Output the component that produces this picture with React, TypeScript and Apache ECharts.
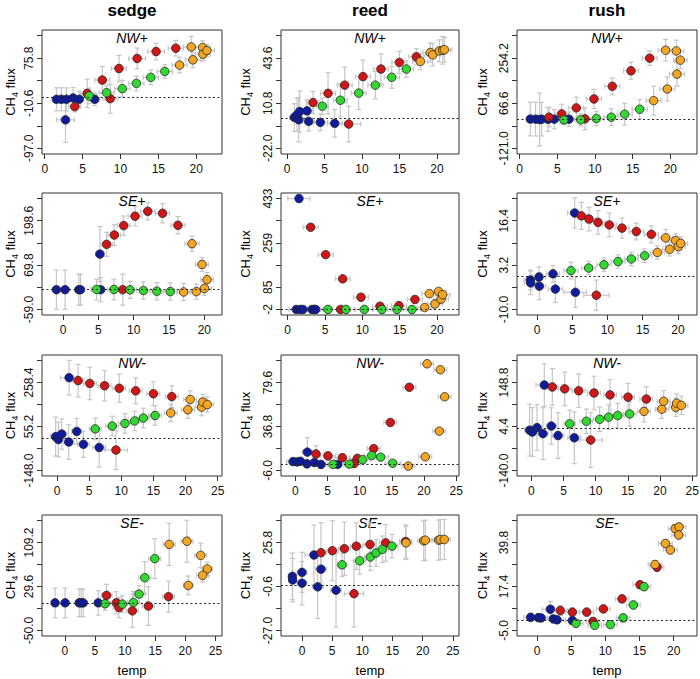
import React, { useEffect, useRef } from "react";
import * as echarts from "echarts";

const FONT = "'Liberation Sans', Arial, Helvetica, sans-serif";

const columnNames = ["sedge", "reed", "rush"];
const siteNames = ["NW+", "SE+", "NW-", "SE-"];
// 0 blue, 1 red, 2 green, 3 orange
const groupColors = ["#0f1c9f", "#d01616", "#30d830", "#f4a522"];

// [temp, CH4 flux, temp error, flux error, group]
const sedgeNWplus = [
  [1.55, -3.0, 0.5, 22, 0], [2.2, -3.0, 0.5, 22, 0], [2.87, -3.0, 0.5, 22, 0], [3.75, -0.4, 0.5, 20, 0],
  [4.55, -3.0, 0.5, 15, 0], [6.6, -3.0, 0.6, 12, 0], [2.74, -42.4, 1.2, 43, 0],
  [3.97, -17.0, 0.8, 10, 1], [5.6, 8.5, 0.9, 27, 1], [7.6, 33.9, 1.0, 26, 1], [9.8, 56.1, 1.0, 25, 1],
  [12.2, 75.2, 1.1, 20, 1], [14.7, 88.5, 1.1, 16, 1], [17.3, 94.9, 1.0, 15, 1], [8.65, -1.7, 1.0, 28, 1],
  [5.87, 3.4, 1.0, 15, 2], [8.17, 9.7, 1.0, 14, 2], [10.24, 17.4, 1.0, 16, 2], [12.1, 27.5, 1.0, 14, 2],
  [14.0, 39.0, 1.0, 14, 2], [15.85, 50.4, 1.0, 13, 2],
  [17.8, 62.5, 1.0, 15, 3], [19.34, 97.4, 1.0, 20, 3], [19.56, 72.6, 1.0, 15, 3], [20.84, 96.1, 1.0, 13, 3],
  [20.88, 83.4, 1.0, 13, 3], [21.41, 90.4, 1.0, 12, 3],
];
const reedNWplus = [
  [0.98, 0.5, 0.6, 10, 0], [1.33, 2.4, 0.6, 12, 0], [1.69, 4.8, 0.5, 15, 0], [1.56, -1.2, 0.6, 16, 0],
  [2.67, 5.3, 0.8, 8, 0], [2.89, -2.4, 0.8, 7, 0], [4.44, -3.1, 1.0, 6, 0], [6.36, -3.8, 1.0, 10, 0],
  [3.47, 11.3, 0.9, 8, 1], [5.47, 18.0, 1.0, 15, 1], [7.69, 24.0, 1.0, 13, 1], [10.13, 30.2, 1.0, 12, 1],
  [12.53, 35.7, 1.0, 11, 1], [14.98, 40.5, 1.0, 8, 1], [17.24, 44.6, 1.0, 6, 1], [8.22, -4.3, 1.6, 13, 1],
  [4.71, 8.65, 0.8, 6, 2], [7.11, 13.0, 0.9, 12, 2], [9.56, 18.2, 1.0, 12, 2], [11.78, 24.0, 1.0, 10, 2],
  [13.96, 29.7, 1.0, 8, 2], [15.91, 35.7, 1.0, 6, 2],
  [17.78, 41.2, 1.0, 6, 3], [19.1, 47.7, 1.0, 7, 3], [19.42, 46.0, 1.0, 8, 3], [20.31, 48.9, 1.0, 8, 3],
  [20.76, 49.3, 1.0, 10, 3], [20.98, 49.8, 1.0, 9, 3],
];
const rushNWplus = [
  [1.42, 1.0, 0.5, 70, 0], [2.12, 0.5, 0.5, 70, 0], [2.65, -1.0, 0.6, 110, 0], [2.92, 0.5, 0.6, 70, 0],
  [3.76, 0.0, 0.6, 50, 0], [4.6, 0.5, 0.6, 40, 0], [6.55, 0.5, 0.7, 30, 0],
  [3.9, 8.7, 0.8, 40, 1], [5.58, 22.5, 0.9, 40, 1], [7.52, 47.4, 1.0, 45, 1], [9.87, 84.6, 1.0, 40, 1],
  [12.3, 137.0, 1.0, 35, 1], [14.78, 201.8, 1.0, 35, 1], [17.26, 254.2, 1.0, 30, 1], [8.67, 1.8, 1.0, 45, 1],
  [5.88, -2.3, 0.8, 20, 2], [8.1, -2.3, 0.8, 25, 2], [10.18, 3.2, 1.0, 30, 2], [12.17, 8.7, 1.0, 35, 2],
  [13.94, 21.2, 1.0, 45, 2], [15.93, 41.8, 1.0, 40, 2],
  [17.79, 77.7, 1.0, 60, 3], [19.6, 126.0, 1.0, 50, 3], [20.88, 188.0, 1.0, 50, 3], [21.33, 246.0, 0.9, 35, 3],
  [19.38, 287.3, 1.0, 45, 3], [20.8, 284.5, 1.0, 45, 3],
];
const sedgeSEplus = [
  [-0.95, -1.6, 0.5, 57, 0], [0.28, -1.6, 0.5, 57, 0], [2.23, -1.6, 0.5, 45, 0], [2.46, -1.6, 0.5, 45, 0],
  [5.21, 101.8, 0.6, 80, 0], [5.31, -1.6, 0.6, 35, 0],
  [6.16, 130.0, 0.8, 35, 1], [7.25, 157.2, 0.9, 30, 1], [8.58, 184.5, 0.9, 28, 1], [10.19, 211.8, 1.0, 28, 1],
  [11.99, 225.9, 1.0, 25, 1], [14.08, 220.2, 1.0, 28, 1], [16.26, 185.4, 1.0, 25, 1], [8.44, -1.6, 1.0, 45, 1],
  [4.74, -1.0, 0.8, 30, 2], [7.2, -1.0, 0.9, 30, 2], [9.48, -2.0, 0.9, 25, 2], [11.37, -4.0, 1.0, 25, 2],
  [13.27, -6.0, 1.0, 25, 2], [15.17, -7.0, 1.0, 25, 2],
  [17.06, -8.2, 1.0, 25, 3], [18.86, -7.3, 1.0, 22, 3], [20.0, 2.1, 1.0, 20, 3], [19.67, 71.7, 0.9, 20, 3],
  [18.25, 131.9, 1.0, 22, 3], [20.38, 27.5, 0.9, 20, 3],
];
const reedSEplus = [
  [1.52, 433, 1.5, 6, 0], [1.16, -2, 1.0, 3, 0], [1.7, -2, 1.0, 3, 0], [2.05, -2, 1.0, 3, 0],
  [3.26, -2, 1.2, 3, 0], [3.57, -2, 1.2, 3, 0], [3.75, -2, 1.2, 3, 0],
  [3.08, 320.5, 1.0, 5, 1], [5.09, 213, 1.0, 5, 1], [7.37, 118, 1.0, 5, 1], [9.82, 46, 1.0, 5, 1],
  [12.37, 10.6, 1.0, 6, 1], [14.91, 13.2, 1.0, 8, 1], [17.05, 37.2, 1.0, 10, 1], [7.1, -2, 1.2, 3, 1],
  [5.4, -2, 1.2, 3, 2], [7.81, -2, 1.2, 3, 2], [10.27, -2, 1.2, 3, 2], [12.63, -2, 1.2, 3, 2],
  [14.64, -2, 1.2, 3, 2], [16.65, -2, 1.2, 3, 2],
  [18.35, 5.6, 1.0, 8, 3], [18.97, 60, 1.0, 10, 3], [19.73, 19.5, 1.0, 10, 3], [20.22, 68.8, 1.0, 10, 3],
  [20.54, 38.5, 1.0, 12, 3], [20.76, 56, 1.0, 12, 3],
];
const rushSEplus = [
  [5.34, 18.7, 1.0, 4.5, 0], [-0.95, -1.23, 0.9, 3, 0], [-0.9, -2.1, 0.9, 3.5, 0], [0.28, -0.36, 0.9, 3, 0],
  [2.27, 0.6, 0.9, 2.5, 0], [0.33, -3.06, 0.9, 4, 0], [2.6, -3.93, 1.0, 4, 0], [5.44, -4.9, 1.6, 4.5, 0],
  [6.29, 17.85, 0.9, 4, 1], [7.38, 16.9, 1.0, 3.5, 1], [8.65, 15.9, 1.0, 3.5, 1], [10.26, 15.15, 1.0, 3.5, 1],
  [12.06, 14.2, 1.0, 3, 1], [14.09, 13.2, 1.0, 2.5, 1], [16.22, 12.35, 1.0, 2.5, 1], [8.42, -5.76, 1.8, 4.5, 1],
  [4.82, 1.56, 1.0, 2.5, 2], [7.33, 2.33, 1.0, 2, 2], [9.5, 3.3, 1.0, 2, 2], [11.49, 4.26, 1.0, 2, 2],
  [13.38, 5.03, 1.0, 2, 2], [15.27, 6.0, 1.0, 2, 2],
  [17.07, 6.96, 1.0, 2, 3], [18.25, 11.3, 1.0, 2.5, 3], [18.82, 7.9, 1.0, 2, 3], [19.67, 10.5, 1.0, 2, 3],
  [20.05, 8.7, 1.0, 2, 3], [20.38, 9.66, 1.0, 2, 3],
];
const sedgeNWminus = [
  [1.88, 280.6, 1.3, 80, 0], [-0.21, 8.6, 0.8, 90, 0], [0.21, -4.7, 0.8, 80, 0], [0.73, 20.4, 0.8, 70, 0],
  [1.82, -16.5, 0.8, 80, 0], [3.07, 32.3, 0.8, 60, 0], [4.11, -26.9, 0.9, 60, 0], [6.56, -41.6, 1.0, 90, 0],
  [3.28, 267.3, 0.9, 75, 1], [5.1, 254.0, 1.0, 75, 1], [7.4, 243.6, 1.0, 70, 1], [9.69, 231.8, 1.0, 65, 1],
  [12.24, 220.0, 1.0, 60, 1], [15.0, 206.7, 1.0, 55, 1], [17.86, 193.4, 1.0, 50, 1], [9.17, -53.5, 1.8, 90, 1],
  [5.94, 44.1, 0.9, 50, 2], [8.59, 57.4, 1.0, 45, 2], [10.57, 69.2, 1.0, 45, 2], [12.08, 81.0, 1.0, 45, 2],
  [13.44, 94.3, 1.0, 45, 2], [15.26, 106.2, 1.0, 45, 2],
  [17.7, 118.0, 1.0, 40, 3], [20.36, 132.8, 1.0, 40, 3], [20.73, 180.0, 1.0, 40, 3], [22.5, 144.6, 1.0, 40, 3],
  [22.7, 168.2, 1.0, 35, 3], [23.4, 156.4, 1.0, 35, 3],
];
const reedNWminus = [
  [-0.36, 2.66, 1.0, 2, 0], [0.26, 2.35, 0.8, 3, 0], [0.78, 2.97, 1.0, 2, 0], [1.87, 11.9, 0.8, 14, 0],
  [1.81, 0.5, 1.0, 4, 0], [2.95, 1.73, 1.0, 3, 0], [3.99, -0.1, 1.0, 4, 0], [6.58, -0.1, 1.0, 3, 0],
  [3.21, 10.1, 1.3, 8, 1], [5.08, 8.2, 1.2, 4, 1], [7.31, 6.4, 1.2, 4, 1], [9.64, 5.75, 1.2, 4, 1],
  [12.18, 15.3, 1.0, 3, 1], [14.77, 40.7, 1.0, 2, 1], [17.72, 75.0, 1.0, 2, 1], [9.12, 0.8, 1.0, 3, 1],
  [5.85, -0.1, 1.2, 2, 2], [8.39, 0.2, 1.2, 2, 2], [10.47, 4.5, 1.2, 3, 2], [11.87, 8.5, 1.2, 3, 2],
  [13.26, 7.0, 1.2, 3, 2], [15.13, 1.1, 1.2, 2, 2],
  [17.56, -1.7, 1.0, 2, 3], [20.2, 7.3, 1.0, 2, 3], [20.47, 97.8, 1.0, 2, 3], [22.38, 32.3, 1.0, 2, 3],
  [22.54, 92.0, 1.0, 2, 3], [23.21, 65.7, 1.0, 2, 3],
];
const rushNWminus = [
  [2.02, 140.5, 1.3, 70, 0], [-0.26, -7.6, 0.8, 85, 0], [0.16, -13.8, 0.8, 80, 0], [0.88, 0.75, 0.8, 75, 0],
  [1.81, -19.0, 0.8, 85, 0], [3.11, 5.97, 0.8, 60, 0], [4.15, -25.3, 0.9, 75, 0], [6.68, -32.6, 1.0, 85, 0],
  [3.26, 134.2, 0.9, 60, 1], [5.18, 128.0, 1.0, 55, 1], [7.36, 121.7, 1.0, 55, 1], [9.74, 114.4, 1.0, 55, 1],
  [12.23, 108.1, 1.0, 50, 1], [15.03, 100.8, 1.0, 45, 1], [17.88, 94.6, 1.0, 40, 1], [9.22, -39.9, 1.8, 90, 1],
  [5.96, 13.3, 0.9, 45, 2], [8.55, 21.6, 1.0, 40, 2], [10.62, 27.9, 1.0, 40, 2], [12.02, 35.2, 1.0, 40, 2],
  [13.42, 40.4, 1.0, 40, 2], [15.28, 45.6, 1.0, 40, 2],
  [17.51, 53.9, 1.0, 35, 3], [20.26, 61.2, 1.0, 30, 3], [20.57, 87.3, 1.0, 35, 3], [22.44, 67.5, 1.0, 30, 3],
  [22.59, 81.0, 1.0, 30, 3], [23.32, 73.7, 1.0, 30, 3],
];
const sedgeSEminus = [
  [-1.61, 0.0, 0.6, 27, 0], [0.06, 0.0, 0.6, 27, 0], [2.39, 0.0, 0.6, 25, 0], [2.72, 0.0, 0.6, 25, 0],
  [3.06, 0.0, 0.6, 25, 0], [5.56, 0.0, 0.6, 22, 0],
  [6.94, 13.6, 0.9, 20, 1], [8.56, 0.2, 1.0, 20, 1], [9.0, -8.6, 1.0, 18, 1], [11.22, -14.4, 1.0, 30, 1],
  [13.89, -5.7, 1.0, 35, 1], [17.22, 11.2, 1.0, 28, 1],
  [6.67, -1.6, 0.8, 12, 2], [9.56, -2.2, 0.9, 15, 2], [11.39, 0.7, 1.0, 20, 2], [12.33, 15.9, 1.0, 15, 2],
  [13.28, 45.6, 1.0, 29, 2], [14.94, 80.0, 1.0, 36, 2],
  [17.33, 105.7, 1.0, 38, 3], [20.28, 111.5, 1.0, 38, 3], [22.56, 85.9, 1.0, 22, 3], [23.67, 61.4, 0.8, 12, 3],
  [22.89, 49.7, 1.0, 12, 3], [20.5, 31.6, 0.8, 17, 3],
];
const reedSEminus = [
  [-1.6, 5.5, 0.6, 14, 0], [-1.55, 3.3, 0.6, 13, 0], [0.0, 7.9, 0.8, 12, 0], [0.0, 1.4, 0.8, 13, 0],
  [1.99, 18.3, 1.5, 18, 0], [3.15, 9.8, 0.9, 10, 0], [2.6, -0.8, 0.9, 19, 0], [5.64, -2.8, 0.9, 22, 0],
  [3.15, 19.7, 0.9, 18, 1], [5.03, 20.9, 1.0, 18, 1], [7.02, 22.1, 1.0, 16, 1], [9.0, 23.6, 1.0, 14, 1],
  [11.27, 24.6, 1.0, 13, 1], [13.87, 25.6, 1.0, 11, 1], [17.18, 26.4, 1.0, 10, 1], [8.62, -4.9, 1.6, 20, 1],
  [6.63, 12.4, 0.8, 7, 2], [9.56, 14.8, 1.0, 8, 2], [11.33, 17.1, 1.0, 8, 2], [12.27, 19.5, 1.0, 8, 2],
  [13.31, 21.7, 1.0, 8, 2], [14.92, 23.6, 1.0, 7, 2],
  [17.24, 25.6, 1.0, 10, 3], [20.17, 26.8, 1.0, 12, 3], [20.44, 27.2, 1.0, 12, 3], [22.65, 27.2, 1.0, 12, 3],
  [22.93, 27.6, 1.0, 12, 3], [23.59, 27.6, 1.0, 12, 3],
];
const rushSEminus = [
  [-0.93, 1.73, 1.0, 2, 0], [0.2, 1.56, 1.0, 2, 0], [0.59, 1.4, 0.9, 2, 0], [1.95, 5.83, 1.2, 4, 0],
  [2.39, 0.91, 1.0, 2, 0], [2.93, 0.42, 1.0, 1.5, 0], [5.17, 0.09, 1.0, 1.5, 0],
  [3.41, 5.18, 1.0, 2.5, 1], [5.17, 4.36, 1.0, 2, 1], [7.27, 4.36, 1.0, 2, 1], [9.71, 6.0, 1.0, 2, 1],
  [12.44, 11.1, 1.0, 2, 1], [15.07, 18.3, 1.0, 1.5, 1], [17.56, 27.2, 1.0, 2, 1], [8.2, -0.4, 1.0, 2, 1],
  [5.71, -1.4, 1.0, 1.5, 2], [8.44, -2.4, 1.0, 1.5, 2], [10.73, -2.0, 1.0, 1.5, 2], [12.59, 1.4, 1.0, 2, 2],
  [14.1, 8.0, 1.0, 2, 2], [15.66, 17.3, 1.0, 1.5, 2],
  [17.27, 28.6, 1.0, 2, 3], [18.78, 39.3, 1.0, 2, 3], [19.51, 36.0, 1.0, 2, 3], [20.2, 46.9, 1.0, 2, 3],
  [20.78, 47.7, 1.0, 2, 3], [20.73, 43.6, 1.0, 2, 3],
];

const panelData = [
  sedgeNWplus, reedNWplus, rushNWplus,
  sedgeSEplus, reedSEplus, rushSEplus,
  sedgeNWminus, reedNWminus, rushNWminus,
  sedgeSEminus, reedSEminus, rushSEminus,
];

// y tick values (6 per panel) and which of them carry a label
const yTickLabels = [
  ["-97.0", "-53.8", "-10.6", "32.6", "75.8", "119.0"],
  ["-22.0", "-5.6", "10.8", "27.2", "43.6", "60.0"],
  ["-121.0", "-27.2", "66.6", "160.4", "254.2", "348.0"],
  ["-59.0", "5.4", "69.8", "134.2", "198.6", "263.0"],
  ["-2", "85", "172", "259", "346", "433"],
  ["-10.0", "-3.4", "3.2", "9.8", "16.4", "23.0"],
  ["-148.0", "-46.4", "55.2", "156.8", "258.4", "360.0"],
  ["-6.0", "15.4", "36.8", "58.2", "79.6", "101.0"],
  ["-140.0", "-67.8", "4.4", "76.6", "148.8", "221.0"],
  ["-50.0", "-10.2", "29.6", "69.4", "109.2", "149.0"],
  ["-27.0", "-13.8", "-0.6", "12.6", "25.8", "39.0"],
  ["-5.0", "6.2", "17.4", "28.6", "39.8", "51.0"],
];
const yLabelShown = [
  [0, 2, 4], [0, 2, 4], [0, 2, 4],
  [0, 2, 4], [0, 1, 3, 5], [0, 2, 4],
  [0, 2, 4], [0, 2, 4], [0, 2, 4],
  [0, 2, 4], [0, 2, 4], [0, 2, 4],
];
const xLimits = [
  [-0.36, 23.4], [-0.8, 22.93], [-0.35, 23.54],
  [-2.99, 22.5], [-0.89, 22.95], [-2.84, 22.7],
  [-2.34, 25.68], [-2.23, 25.44], [-2.23, 25.75],
  [-3.78, 26.1], [-3.48, 26.02], [-2.93, 23.41],
];
const xTicksTo20 = [0, 5, 10, 15, 20];
const xTicksTo25 = [0, 5, 10, 15, 20, 25];
const xTickSets = [
  xTicksTo20, xTicksTo20, xTicksTo20,
  xTicksTo20, xTicksTo20, xTicksTo20,
  xTicksTo25, xTicksTo25, xTicksTo25,
  xTicksTo25, xTicksTo25, xTicksTo20,
];
const xAxisTitle = "temp";

// layout (pixels)
const colLeft = [42, 281, 517];
const colRight = [222, 459, 697];
const rowTop = [30, 193, 355, 515];
const rowBottom = [154, 315, 476, 636];
const yNameX = [10, 245, 482];

function errorBars(params: any, api: any) {
  const x = api.value(0), y = api.value(1), xe = api.value(2), ye = api.value(3);
  const l = api.coord([x - xe, y]);
  const r = api.coord([x + xe, y]);
  const t = api.coord([x, y + ye]);
  const b = api.coord([x, y - ye]);
  const c = 2.5;
  const style = { stroke: "#c6c6c6", lineWidth: 1.2, fill: null };
  const ln = (x1: number, y1: number, x2: number, y2: number) => ({
    type: "line", shape: { x1, y1, x2, y2 }, style,
  });
  return {
    type: "group",
    children: [
      ln(l[0], l[1], r[0], r[1]),
      ln(l[0], l[1] - c, l[0], l[1] + c),
      ln(r[0], r[1] - c, r[0], r[1] + c),
      ln(t[0], t[1], b[0], b[1]),
      ln(t[0] - c, t[1], t[0] + c, t[1]),
      ln(b[0] - c, b[1], b[0] + c, b[1]),
    ],
  };
}

function buildOption() {
  const grids: any[] = [], xAxes: any[] = [], yAxes: any[] = [], series: any[] = [], graphics: any[] = [];
  columnNames.forEach((n, c) => {
    graphics.push({
      type: "text", x: (colLeft[c] + colRight[c]) / 2, y: 10,
      style: { text: n, font: `bold 17px ${FONT}`, fill: "#000", align: "center", verticalAlign: "middle" },
    });
  });
  for (let i = 0; i < 12; i++) {
    const r = Math.floor(i / 3), c = i % 3;
    const left = colLeft[c], top = rowTop[r];
    const width = colRight[c] - left, height = rowBottom[r] - top;
    grids.push({
      left, top, width, height, show: true, borderColor: "#333", borderWidth: 1,
      backgroundColor: "transparent", containLabel: false, outerBoundsMode: "none",
    });
    const labels = yTickLabels[i];
    const ticks = labels.map(Number);
    const span = ticks[5] - ticks[0];
    const fmtY = (v: number) => {
      let best = 0;
      for (let k = 1; k < ticks.length; k++) if (Math.abs(ticks[k] - v) < Math.abs(ticks[best] - v)) best = k;
      return labels[best];
    };
    yAxes.push({
      gridIndex: i, type: "value", position: "left", min: ticks[0] - 0.05 * span, max: ticks[5] + 0.05 * span,
      axisLine: { show: false, onZero: false }, splitLine: { show: false },
      axisTick: { show: true, length: 5, lineStyle: { color: "#333", width: 1 }, customValues: ticks },
      axisLabel: {
        show: true, rotate: 90, margin: 7, fontSize: 12, color: "#111", fontFamily: FONT,
        customValues: yLabelShown[i].map((k) => ticks[k]), formatter: fmtY, hideOverlap: false,
      },
    });
    const xt = xTickSets[i];
    xAxes.push({
      gridIndex: i, type: "value", position: "bottom", min: xLimits[i][0], max: xLimits[i][1],
      axisLine: { show: false, onZero: false }, splitLine: { show: false },
      axisTick: { show: true, length: 5, lineStyle: { color: "#333", width: 1 }, customValues: xt },
      axisLabel: {
        show: true, margin: 9, fontSize: 12, color: "#111", fontFamily: FONT,
        customValues: xt, formatter: (v: number) => String(Math.round(v)), hideOverlap: false,
      },
    });
    series.push({
      type: "custom", xAxisIndex: i, yAxisIndex: i, clip: true, silent: true, z: 2,
      data: panelData[i], encode: { x: 0, y: 1 }, renderItem: errorBars,
    });
    series.push({
      type: "line", xAxisIndex: i, yAxisIndex: i, data: [], silent: true, z: 3,
      markLine: {
        silent: true, symbol: ["none", "none"], label: { show: false },
        lineStyle: { color: "#222", type: [2, 2.5], width: 1 },
        emphasis: { disabled: true },
        data: [{ yAxis: 0 }],
      },
    });
    series.push({
      type: "scatter", xAxisIndex: i, yAxisIndex: i, data: panelData[i], encode: { x: 0, y: 1 },
      symbolSize: 8.5, z: 4, silent: true,
      itemStyle: { color: (p: any) => groupColors[p.value[4]], borderColor: "#222", borderWidth: 0.8, opacity: 1 },
    });
    const cx = (colLeft[c] + colRight[c]) / 2;
    graphics.push({
      type: "text", x: cx, y: top + 8,
      style: { text: siteNames[r], font: `italic 14px ${FONT}`, fill: "#000", align: "center", verticalAlign: "middle" },
    });
    graphics.push({
      type: "text", x: yNameX[c], y: (top + rowBottom[r]) / 2, rotation: Math.PI / 2,
      style: {
        text: "{a|CH}{b|4}{a| flux}", align: "center", verticalAlign: "middle",
        rich: {
          a: { fontSize: 13, fontFamily: FONT, fill: "#000", lineHeight: 18, verticalAlign: "middle" },
          b: { fontSize: 9, fontFamily: FONT, fill: "#000", lineHeight: 18, verticalAlign: "bottom" },
        },
      },
    });
    if (r === 3) {
      graphics.push({
        type: "text", x: cx, y: 670,
        style: { text: xAxisTitle, font: `13px ${FONT}`, fill: "#000", align: "center", verticalAlign: "middle" },
      });
    }
  }
  return {
    animation: false,
    backgroundColor: "#fff",
    grid: grids, xAxis: xAxes, yAxis: yAxes, series, graphic: graphics,
  };
}

export default function App() {
  const ref = useRef<HTMLDivElement>(null);
  useEffect(() => {
    if (!ref.current) return;
    const chart = echarts.init(ref.current, null, { renderer: "svg" });
    chart.setOption(buildOption() as any);
    return () => chart.dispose();
  }, []);
  return (
    <div
      ref={ref}
      style={{ position: "absolute", left: 0, top: 0, width: 700, height: 679, background: "#fff" }}
    />
  );
}
